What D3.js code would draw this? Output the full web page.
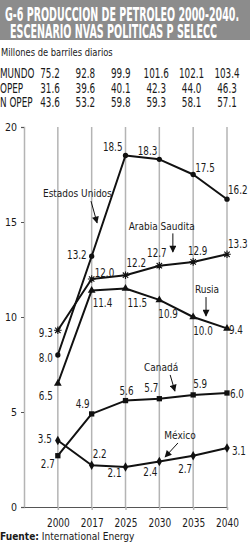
<!DOCTYPE html>
<html lang="es">
<head>
<meta charset="utf-8">
<title>Produccion de petroleo 2000-2040</title>
<script src="https://cdn.jsdelivr.net/npm/d3@7"></script>
<style>
  * { margin: 0; padding: 0; }
  body { background: #fff; }
  svg { display: block; }
  text { font-family: "Liberation Sans Narrow", "DejaVu Sans Condensed", "Liberation Sans", sans-serif; fill: #1a1a1a; }
</style>
</head>
<body>
<div id="chart"></div>
<script>
// data
var years = ["2000", "2017", "2025", "2030", "2035", "2040"];
var tableRows = ["MUNDO", "OPEP", "N OPEP"];
var mundo = [75.2, 92.8, 99.9, 101.6, 102.1, 103.4];
var opep = [31.6, 39.6, 40.1, 42.3, 44.0, 46.3];
var nOpep = [43.6, 53.2, 59.8, 59.3, 58.1, 57.1];

var estadosUnidos = [8.0, 13.2, 18.5, 18.3, 17.5, 16.2];
var arabiaSaudita = [9.3, 12.0, 12.2, 12.7, 12.9, 13.3];
var rusia = [6.5, 11.4, 11.5, 10.9, 10.0, 9.4];
var canada = [2.7, 4.9, 5.6, 5.7, 5.9, 6.0];
var mexico = [3.5, 2.2, 2.1, 2.4, 2.7, 3.1];

var yTicks = [0, 5, 10, 15, 20];

var w = 250, h = 548;

var svg = d3.select("#chart").append("svg")
  .attr("width", w)
  .attr("height", h);

// little helper: text squeezed horizontally, to mimic the condensed newspaper face
function txt(parent, x, y, s, size, sx, anchor, weight) {
  return parent.append("text")
    .attr("transform", "translate(" + x + "," + y + ") scale(" + sx + ",1)")
    .attr("font-size", size)
    .attr("text-anchor", anchor || "start")
    .attr("font-weight", weight || "normal")
    .text(s);
}

// title banner
svg.append("rect")
  .attr("x", 0).attr("y", 0)
  .attr("width", w).attr("height", 40)
  .attr("fill", "#8c8c8c");

svg.append("text")
  .attr("x", 5).attr("y", 21)
  .attr("font-size", 19).attr("font-weight", "bold")
  .attr("textLength", 234).attr("lengthAdjust", "spacingAndGlyphs")
  .style("fill", "#fff")
  .text("G-6 PRODUCCION DE PETROLEO 2000-2040.");

svg.append("text")
  .attr("x", 10).attr("y", 38)
  .attr("font-size", 19).attr("font-weight", "bold")
  .attr("textLength", 207).attr("lengthAdjust", "spacingAndGlyphs")
  .style("fill", "#fff")
  .text("ESCENARIO NVAS POLITICAS P SELECC");

txt(svg, 1, 56, "Millones de barriles diarios", 10, 0.93);

// table
var tx = d3.scaleLinear().domain([0, 5]).range([50, 227]);
var ty = d3.scaleLinear().domain([0, 1]).range([78, 92.5]);
var tableVals = [mundo, opep, nOpep];

tableRows.forEach(function(r, i) {
  txt(svg, 0, ty(i), r, 14, 0.7);
  tableVals[i].forEach(function(v, j) {
    txt(svg, tx(j), ty(i), v.toFixed(1), 14, 0.7, "middle");
  });
});

// scales
var x = d3.scaleLinear().domain([-1, 5]).range([24, 227]);
var y = d3.scaleLinear().domain([0, 20]).range([507, 127]);

// vertical grid lines at each year
svg.append("g").selectAll("line")
  .data(years)
  .enter().append("line")
  .attr("x1", function(d, i) { return x(i); })
  .attr("x2", function(d, i) { return x(i); })
  .attr("y1", y(20))
  .attr("y2", y(0))
  .attr("stroke", "#b4b4b4")
  .attr("stroke-width", 1.5);

// y axis
var yAxis = svg.append("g")
  .attr("transform", "translate(" + x(-1) + ",0)")
  .call(d3.axisLeft(y).tickValues(yTicks).tickSize(3).tickPadding(4));
yAxis.select(".domain").attr("stroke", "#b4b4b4").attr("stroke-width", 1.5);
yAxis.selectAll(".tick line").attr("stroke", "#555");
yAxis.selectAll(".tick text")
  .attr("font-family", null)
  .attr("font-size", 10.5)
  .attr("dy", "0.36em");

// x axis
var xAxis = svg.append("g")
  .attr("transform", "translate(0," + y(0) + ")")
  .call(d3.axisBottom(x)
    .tickValues(d3.range(years.length))
    .tickFormat(function(i) { return years[i]; })
    .tickSize(3)
    .tickSizeOuter(0));
xAxis.select(".domain").attr("stroke", "#555").attr("stroke-width", 1);
xAxis.selectAll(".tick line").attr("stroke", "#b4b4b4").attr("stroke-width", 1.5);
xAxis.selectAll(".tick text")
  .attr("font-family", null)
  .attr("font-size", 12.5)
  .attr("y", 0)
  .attr("dy", 0)
  .attr("transform", "translate(0,20) scale(0.8,1)");

// series
var asterisk = "M0,-3.8L0,3.8M-3.8,0L3.8,0M-2.7,-2.7L2.7,2.7M-2.7,2.7L2.7,-2.7";

var series = [
  { name: "Estados Unidos", values: estadosUnidos, symbol: d3.symbolCircle, size: 22 },
  { name: "Arabia Saudita", values: arabiaSaudita, symbol: null, size: 0 },
  { name: "Rusia", values: rusia, symbol: d3.symbolTriangle, size: 26 },
  { name: "Canadá", values: canada, symbol: d3.symbolSquare, size: 28 },
  { name: "México", values: mexico, symbol: d3.symbolDiamond, size: 26 }
];

// value label offsets [dx, dy, anchor]
var labelOffsets = [
  [[-5, 7, "end"], [-5, 3, "end"], [-3, -5, "end"], [-2, -4, "end"], [2, -3, "start"], [1, -5, "start"]],
  [[-5, 7, "end"], [3, -2, "start"], [1, -8, "start"], [-2.5, -9, "middle"], [4.5, -7, "middle"], [1, -6, "start"]],
  [[-5, 16.5, "end"], [1, 16.5, "start"], [2, 18, "start"], [-1, 18, "start"], [0, 18, "start"], [2, 5.5, "start"]],
  [[-3, 12, "end"], [-2, -6, "end"], [1, -6, "middle"], [-1, -7, "end"], [0, -7, "start"], [3, 5, "start"]],
  [[-6, 2, "end"], [1, -7, "start"], [-4, 10, "end"], [-2, 15, "end"], [-1, 17, "end"], [5, 7, "start"]]
];

var line = d3.line()
  .x(function(d, i) { return x(i); })
  .y(function(d) { return y(d); });

var gLines = svg.append("g");
series.forEach(function(s, k) {
  gLines.append("path")
    .datum(s.values)
    .attr("d", line)
    .attr("fill", "none")
    .attr("stroke", "#111")
    .attr("stroke-width", 2)
    .attr("stroke-linejoin", "round");
});

series.forEach(function(s, k) {
  var g = svg.append("g");
  s.values.forEach(function(v, i) {
    var px = x(i), py = y(v);
    if (s.symbol) {
      g.append("path")
        .attr("transform", "translate(" + px + "," + py + ")")
        .attr("d", d3.symbol().type(s.symbol).size(s.size)())
        .attr("fill", "#111");
    } else {
      g.append("path")
        .attr("transform", "translate(" + px + "," + py + ")")
        .attr("d", asterisk)
        .attr("stroke", "#111")
        .attr("stroke-width", 1.1)
        .attr("fill", "none");
    }
    var o = labelOffsets[k][i];
    txt(svg, px + o[0], py + o[1], v.toFixed(1), 11.5, 0.85, o[2]);
  });
});

// series name annotations, in data units: [index, value] for text and arrow ends
var annotations = [
  { name: "Estados Unidos", at: [-0.44, 16.3], anchor: "start", from: [0.98, 16.1], to: [1.16, 14.95] },
  { name: "Arabia Saudita", at: [3.07, 14.58], anchor: "middle", from: [3.4, 14.4], to: [3.4, 13.42] },
  { name: "Rusia", at: [4.41, 11.26], anchor: "middle", from: [4.38, 11.05], to: [4.38, 10.05] },
  { name: "Canadá", at: [3.05, 7.16], anchor: "middle", from: [3.32, 6.95], to: [3.46, 6.1] },
  { name: "México", at: [3.61, 3.58], anchor: "middle", from: [3.55, 3.37], to: [3.17, 2.63] }
];

svg.append("defs").append("marker")
  .attr("id", "head")
  .attr("viewBox", "0 0 10 10")
  .attr("refX", 9).attr("refY", 5)
  .attr("markerUnits", "userSpaceOnUse")
  .attr("markerWidth", 9).attr("markerHeight", 7)
  .attr("orient", "auto")
  .append("path")
  .attr("d", "M0,0L10,5L0,10Z")
  .attr("fill", "#111");

annotations.forEach(function(a) {
  txt(svg, x(a.at[0]), y(a.at[1]), a.name, 10, 1, a.anchor);
  svg.append("line")
    .attr("x1", x(a.from[0])).attr("y1", y(a.from[1]))
    .attr("x2", x(a.to[0])).attr("y2", y(a.to[1]))
    .attr("stroke", "#111")
    .attr("stroke-width", 1)
    .attr("marker-end", "url(#head)");
});

// source
var src = txt(svg, 0, 540, "", 11, 0.92);
src.append("tspan").attr("font-weight", "bold").text("Fuente:");
src.append("tspan").text(" International Energy");
</script>
</body>
</html>
